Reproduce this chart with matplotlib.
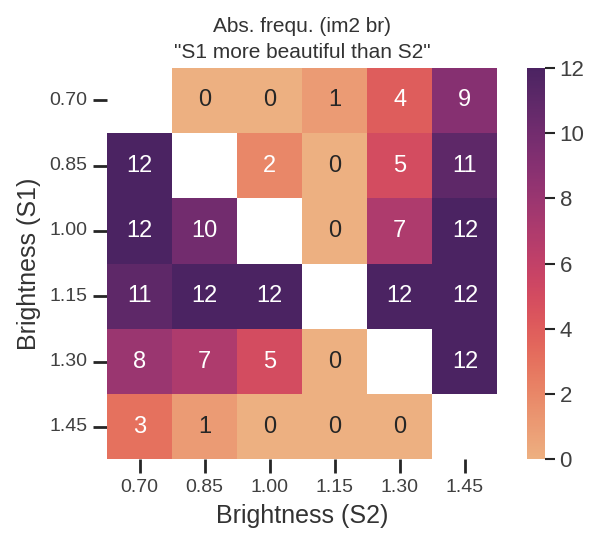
import matplotlib
matplotlib.use("Agg")
import matplotlib.pyplot as plt
import seaborn as sns
import numpy as np
import pandas as pd

levels = ["0.70", "0.85", "1.00", "1.15", "1.30", "1.45"]
nan = np.nan
counts = [
    [nan, 0, 0, 1, 4, 9],
    [12, nan, 2, 0, 5, 11],
    [12, 10, nan, 0, 7, 12],
    [11, 12, 12, nan, 12, 12],
    [8, 7, 5, 0, nan, 12],
    [3, 1, 0, 0, 0, nan],
]

sns.set_theme(style="ticks")
plt.rcParams['font.family'] = ['Liberation Sans', 'DejaVu Sans']

df = pd.DataFrame(counts, index=levels, columns=levels)

fig = plt.figure(figsize=(5.95, 5.33), dpi=100)
ax = fig.add_axes([0.18, 0.138, 0.656, 0.735])
cax = fig.add_axes([0.886, 0.138, 0.03, 0.735])
sns.heatmap(df, ax=ax, cbar_ax=cax, cmap="flare", vmin=0, vmax=12, annot=True,
            fmt=".0f", annot_kws={"size": 17})
ax.set_title('Abs. frequ. (im2 br)\n"S1 more beautiful than S2"', fontsize=15,
             color=".2", pad=7, linespacing=1.45)
ax.set_xlabel("Brightness (S2)", fontsize=18, color=".2", labelpad=6)
ax.set_ylabel("Brightness (S1)", fontsize=18, color=".2", labelpad=6)
ax.tick_params(axis="both", labelsize=14, length=10, width=2, pad=4, labelcolor=".25")
ax.set_yticklabels(levels, rotation=0)
ax.set_xticklabels(levels, rotation=0)
cax.tick_params(labelsize=16, length=7, width=1.5, labelcolor=".25")
cax.set_yticks([0, 2, 4, 6, 8, 10, 12])

plt.savefig("out.png", dpi=100)
